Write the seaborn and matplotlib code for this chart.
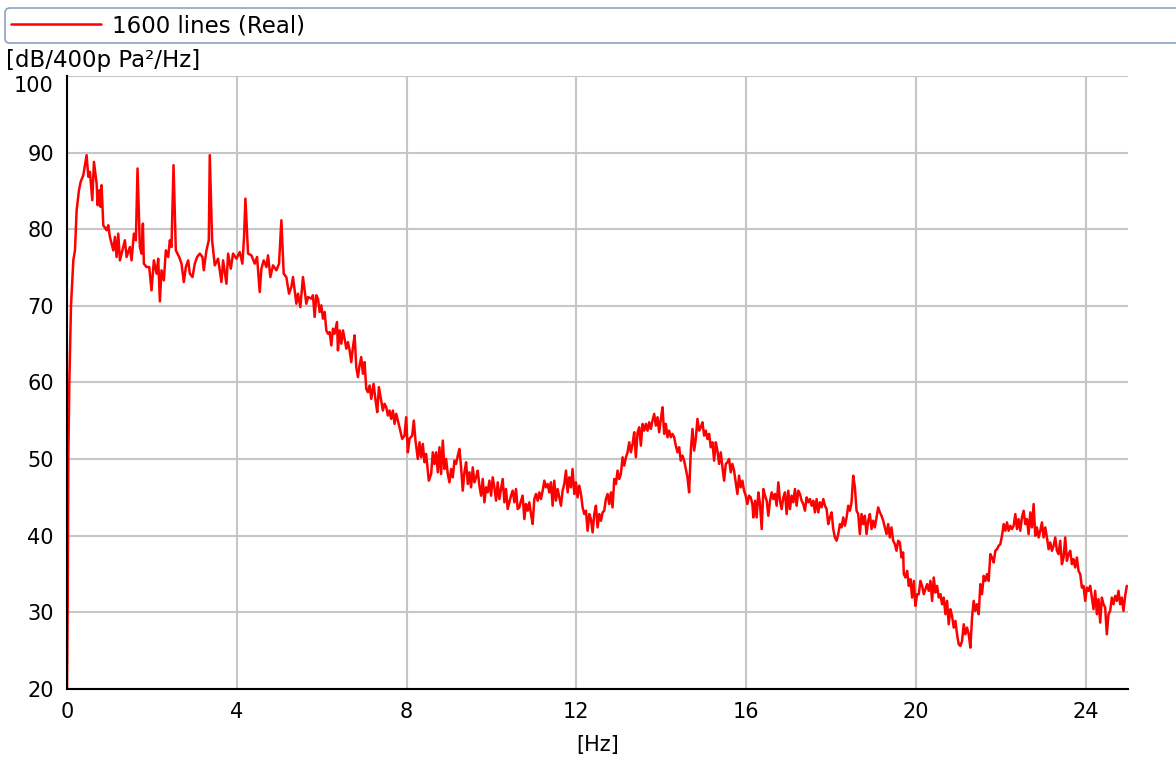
import numpy as np
import pandas as pd
import matplotlib
matplotlib.use("Agg")
import matplotlib.pyplot as plt
import seaborn as sns

# ---------------- data ----------------
series_label = "1600 lines (Real)"
y_unit = "[dB/400p Pa\u00b2/Hz]"
x_unit = "[Hz]"
x_ticks = [0, 4, 8, 12, 16, 20, 24]
y_ticks = [20, 30, 40, 50, 60, 70, 80, 90, 100]

freq_0_6 = [0.0, 0.016, 0.031, 0.055, 0.094, 0.15, 0.188, 0.227, 0.282, 0.321, 0.384, 0.462, 0.502, 0.541,
            0.596, 0.635, 0.698, 0.721, 0.76, 0.792, 0.815, 0.855, 0.933, 0.972, 1.011, 1.09, 1.129, 1.168,
            1.208, 1.247, 1.286, 1.364, 1.404, 1.482, 1.521, 1.576, 1.623, 1.662, 1.717, 1.757, 1.788, 1.811,
            1.874, 1.937, 1.992, 2.047, 2.11, 2.149, 2.188, 2.227, 2.282, 2.329, 2.384, 2.423, 2.462, 2.51,
            2.564, 2.643, 2.698, 2.753, 2.8, 2.855, 2.894, 2.957, 3.011, 3.066, 3.129, 3.192, 3.223, 3.286,
            3.341, 3.364, 3.419, 3.482, 3.56, 3.639, 3.678, 3.757, 3.796, 3.859, 3.913, 3.992, 4.07, 4.133,
            4.172, 4.204, 4.266, 4.345, 4.423, 4.478, 4.541, 4.58, 4.635, 4.698, 4.737, 4.792, 4.855, 4.933,
            4.996, 5.051, 5.106, 5.168, 5.231, 5.286, 5.325, 5.404, 5.443, 5.498, 5.56, 5.639, 5.678]
db_0_6 = [20.0, 31.0, 50.0, 60.0, 70.0, 76.0, 77.25, 82.48, 85.09, 86.18, 87.05, 89.67, 86.84, 87.49,
          83.79, 88.8, 85.97, 83.13, 85.09, 82.92, 85.75, 80.52, 79.87, 80.52, 79.0, 77.25, 79.0, 76.38,
          79.43, 75.94, 76.82, 78.56, 76.38, 77.69, 75.94, 79.43, 78.56, 87.93, 77.69, 76.82, 80.74, 75.51,
          75.07, 75.07, 72.02, 75.94, 74.2, 76.16, 70.59, 74.64, 73.33, 77.25, 76.38, 78.56, 77.69, 88.36,
          77.25, 76.38, 75.51, 73.11, 75.07, 75.94, 74.2, 73.76, 75.51, 76.38, 76.82, 76.38, 74.64, 77.25,
          78.56, 89.67, 78.56, 75.29, 76.16, 73.11, 75.94, 72.89, 76.82, 74.85, 76.82, 76.16, 77.03, 75.51,
          79.0, 84.0, 76.82, 76.6, 75.51, 76.38, 71.8, 74.85, 75.94, 75.07, 76.6, 73.76, 75.29, 74.64,
          75.51, 81.17, 74.2, 73.76, 71.59, 72.46, 73.76, 70.28, 71.59, 69.84, 73.76, 70.28, 71.15]

freq_6_8 = [5.757, 5.796, 5.835, 5.875, 5.914, 5.953, 5.992, 6.031, 6.071, 6.11, 6.149, 6.188, 6.228, 6.267,
            6.306, 6.361, 6.384, 6.424, 6.463, 6.502, 6.541, 6.581, 6.62, 6.659, 6.698, 6.737, 6.777, 6.816,
            6.855, 6.894, 6.933, 6.973, 7.012, 7.051, 7.09, 7.13, 7.169, 7.224, 7.271, 7.31, 7.349, 7.388,
            7.443, 7.482, 7.522, 7.561, 7.6, 7.639, 7.679, 7.718, 7.757, 7.796]
db_6_8 = [70.94, 71.38, 68.55, 71.38, 70.94, 69.2, 70.07, 68.33, 69.2, 66.8, 66.37, 66.58, 64.84, 67.02,
          66.37, 67.89, 64.19, 66.8, 65.06, 66.8, 65.71, 64.41, 65.28, 64.19, 62.66, 64.62, 66.15, 62.01,
          60.7, 62.23, 63.32, 61.14, 62.66, 59.18, 58.74, 59.61, 57.87, 59.83, 57.65, 56.13, 59.39, 58.09,
          56.34, 57.22, 56.78, 55.69, 56.34, 55.26, 56.34, 54.6, 55.91, 55.04]

freq_8_12 = [7.898, 7.953, 7.992, 8.031, 8.07, 8.133, 8.172, 8.211, 8.266, 8.306, 8.345, 8.384, 8.423, 8.462,
             8.525, 8.58, 8.619, 8.659, 8.698, 8.737, 8.776, 8.815, 8.855, 8.894, 8.933, 8.972, 9.011, 9.051,
             9.09, 9.129, 9.168, 9.208, 9.247, 9.286, 9.325, 9.364, 9.404, 9.443, 9.482, 9.521, 9.561, 9.6,
             9.639, 9.678, 9.717, 9.757, 9.796, 9.835, 9.874, 9.913, 9.953, 9.992, 10.031, 10.07, 10.11,
             10.149, 10.188, 10.227, 10.266, 10.306, 10.345, 10.384, 10.423, 10.462, 10.502, 10.541, 10.58,
             10.619, 10.659, 10.698, 10.737, 10.776, 10.815, 10.855, 10.894, 10.933, 10.972, 11.011, 11.051,
             11.09, 11.129, 11.168, 11.208, 11.247, 11.286, 11.325, 11.364, 11.404, 11.443, 11.482, 11.521,
             11.561, 11.6, 11.639, 11.678, 11.717, 11.757, 11.796, 11.835, 11.874, 11.913, 11.953, 11.992,
             12.031, 12.07]
db_8_12 = [52.64, 53.07, 55.47, 50.89, 52.64, 53.07, 55.03, 52.42, 50.02, 52.2, 50.24, 51.98, 49.59, 50.68,
           47.19, 48.06, 50.89, 49.37, 50.89, 48.28, 51.55, 48.06, 52.42, 48.71, 50.02, 48.06, 46.97, 48.71,
           47.63, 49.8, 49.37, 50.46, 51.33, 48.93, 45.88, 48.28, 49.59, 46.75, 48.28, 46.32, 48.93, 46.97,
           47.63, 48.5, 46.54, 45.23, 47.41, 44.36, 46.32, 45.66, 47.19, 45.23, 47.63, 46.32, 44.58,
           46.97, 44.79, 46.1, 47.41, 44.36, 46.1, 43.49, 44.36, 45.23, 45.88, 44.36, 46.1,
           43.49, 43.7, 44.58, 45.23, 42.18, 44.14, 43.27, 44.36, 42.83, 41.53, 44.79, 45.45,
           44.58, 45.66, 44.79, 45.88, 47.19, 46.32, 46.75, 45.66, 46.97, 43.92, 47.19, 44.58,
           46.1, 45.01, 43.92, 45.88, 46.75, 48.5, 45.66, 47.63, 46.32, 48.71, 45.45, 46.97,
           45.01, 46.54]

freq_12_16 = [12.11, 12.149, 12.188, 12.228, 12.267, 12.306, 12.345, 12.385, 12.424, 12.463, 12.502, 12.542,
              12.581, 12.62, 12.659, 12.698, 12.738, 12.777, 12.816, 12.855, 12.895, 12.934, 12.973, 13.012,
              13.051, 13.091, 13.13, 13.169, 13.208, 13.247, 13.287, 13.326, 13.365, 13.404, 13.444, 13.483,
              13.522, 13.561, 13.6, 13.64, 13.679, 13.718, 13.757, 13.796, 13.836, 13.875, 13.914, 13.953,
              13.993, 14.032, 14.071, 14.11, 14.149, 14.189, 14.228, 14.267, 14.306, 14.346, 14.385, 14.424,
              14.463, 14.502, 14.542, 14.581, 14.62, 14.659, 14.699, 14.738, 14.777, 14.816, 14.855, 14.895,
              14.934, 14.973, 15.012, 15.052, 15.091, 15.13, 15.169, 15.208, 15.248, 15.287, 15.326, 15.365,
              15.404, 15.444, 15.483, 15.522, 15.561]
db_12_16 = [45.45, 43.7, 42.83, 43.27, 40.65, 42.83, 42.18, 40.43, 42.83, 43.92, 41.09, 42.83, 41.96, 43.05,
            43.27, 44.79, 45.45, 44.14, 45.66, 43.7, 47.41, 46.75, 48.5, 47.41, 48.06, 50.24, 49.15, 50.24,
            50.89, 52.2, 50.89, 51.98, 53.51, 50.24, 53.51, 54.16, 51.76, 54.6, 53.72, 54.6, 53.72, 54.81,
            53.94, 55.03, 55.9, 54.38, 55.47, 53.51, 55.25, 56.77, 53.29, 54.6, 52.85, 53.72, 52.85, 53.29,
            52.85, 51.76, 50.89, 51.55, 49.8, 50.46, 49.8, 48.71, 47.62, 45.66, 51.11, 53.94, 51.11, 52.63,
            55.25, 53.72, 54.16, 54.81, 53.07, 53.72, 52.63, 53.29, 51.55, 52.2, 49.8, 52.2, 51.11, 49.37,
            50.89, 48.93, 47.19, 49.37, 49.58]

freq_16_20 = [15.6, 15.639, 15.678, 15.718, 15.757, 15.796, 15.835, 15.874, 15.914, 15.953, 15.992, 16.031,
              16.07, 16.11, 16.149, 16.172, 16.212, 16.251, 16.29, 16.329, 16.369, 16.408, 16.447, 16.486,
              16.525, 16.565, 16.604, 16.643, 16.682, 16.721, 16.761, 16.8, 16.839, 16.878, 16.918, 16.957,
              16.996, 17.035, 17.074, 17.114, 17.153, 17.192, 17.231, 17.27, 17.31, 17.349, 17.388, 17.427,
              17.467, 17.506, 17.545, 17.584, 17.623, 17.663, 17.702, 17.741, 17.78, 17.82, 17.859, 17.898,
              17.937, 17.976, 18.016, 18.055, 18.094, 18.133, 18.173, 18.212, 18.251, 18.29, 18.329, 18.369,
              18.408, 18.447, 18.486, 18.525, 18.565, 18.604, 18.643, 18.682, 18.722, 18.761, 18.8, 18.839,
              18.878, 18.918, 18.957, 18.996, 19.035, 19.074, 19.114, 19.153, 19.192, 19.231, 19.271, 19.31,
              19.349, 19.388, 19.427, 19.467, 19.506, 19.545, 19.584, 19.624, 19.663, 19.702]
db_16_20 = [50.02, 48.28, 49.37, 48.5, 46.97, 45.45, 47.84, 46.32, 47.19, 45.88, 45.23, 44.14, 45.23, 45.01,
            44.14, 42.39, 44.57, 42.39, 45.66, 44.14, 40.87, 46.1, 45.23, 44.57, 42.61, 44.57, 45.66, 44.79,
            45.45, 43.92, 46.97, 44.57, 43.48, 45.01, 45.66, 42.83, 45.88, 43.48, 45.23, 44.36, 46.1, 43.92,
            45.88, 45.45, 44.57, 44.14, 43.27, 45.01, 44.36, 44.79, 43.92, 44.57, 43.05, 44.79, 43.05, 44.36,
            43.7, 44.79, 43.92, 43.48, 41.52, 42.39, 43.05, 40.87, 39.78, 39.35, 40.22, 41.52, 41.09, 42.39,
            41.31, 42.39, 43.92, 43.27, 44.36, 47.84, 46.32, 43.27, 42.83, 40.22, 42.83, 41.52, 42.61, 40.22,
            41.96, 42.83, 40.87, 41.96, 41.09, 42.39, 43.7, 43.05, 42.61, 41.96, 41.09, 40.22, 41.52, 39.78,
            41.09, 39.35, 38.91, 38.04, 39.35, 39.13, 37.17, 37.82]

freq_20_25 = [19.717, 19.756, 19.796, 19.835, 19.874, 19.913, 19.953, 19.992, 20.031, 20.07, 20.109, 20.149,
              20.188, 20.227, 20.266, 20.305, 20.345, 20.384, 20.423, 20.462, 20.502, 20.541, 20.58, 20.619,
              20.658, 20.698, 20.737, 20.776, 20.815, 20.854, 20.894, 20.933, 20.972, 21.011, 21.05, 21.09,
              21.129, 21.168, 21.207, 21.247, 21.286, 21.325, 21.364, 21.403, 21.443, 21.482, 21.521, 21.56,
              21.6, 21.639, 21.678, 21.717, 21.756, 21.796, 21.835, 21.874, 21.913, 21.952, 21.992, 22.031,
              22.07, 22.109, 22.149, 22.188, 22.227, 22.266, 22.305, 22.345, 22.384, 22.423, 22.462, 22.501,
              22.541, 22.58, 22.619, 22.658, 22.698, 22.737, 22.776, 22.815, 22.854, 22.894, 22.933, 22.972,
              23.011, 23.05, 23.09, 23.129, 23.168, 23.207, 23.247, 23.286, 23.325, 23.364, 23.403, 23.443,
              23.482, 23.521, 23.56, 23.6, 23.639, 23.678, 23.717, 23.756, 23.796, 23.835, 23.874, 23.913,
              23.952, 23.992, 24.031, 24.07, 24.109, 24.149, 24.188, 24.227, 24.266, 24.305, 24.345, 24.384,
              24.423, 24.462, 24.501, 24.541, 24.58, 24.619, 24.658, 24.698, 24.737, 24.776, 24.815, 24.854,
              24.894, 24.933, 24.972]
db_20_25 = [34.99, 34.55, 35.42, 33.46, 34.33, 31.93, 34.11, 30.85, 32.37, 32.37, 34.11, 33.46, 32.37, 33.02,
            33.68, 32.81, 34.11, 31.5, 34.55, 32.59, 33.46, 31.93, 32.37, 31.06, 31.93, 29.76, 31.5, 28.45,
            30.41, 29.54, 28.01, 28.89, 27.14, 25.84, 25.62, 26.27, 28.45, 27.14, 28.01, 27.14, 25.4, 29.32,
            31.5, 30.19, 31.06, 29.76, 33.68, 32.37, 34.77, 34.11, 34.99, 34.11, 37.6, 37.16, 36.51, 38.04,
            38.25, 38.69, 38.91, 40.0, 41.52, 40.65, 41.74, 40.65, 41.3, 40.87, 41.3, 42.83, 40.87, 42.17,
            40.65, 42.39, 43.26, 41.52, 42.17, 40.21, 43.05, 41.09, 44.14, 40.0, 41.09, 39.78, 40.65, 41.74,
            39.78, 41.09, 39.78, 38.25, 39.12, 38.04, 38.69, 39.78, 38.04, 37.6, 39.34, 36.29, 37.16, 39.78,
            36.73, 37.6, 38.04, 36.29, 36.95, 35.86, 37.16, 35.42, 34.99, 33.24, 33.46, 31.5, 33.24, 32.81,
            33.46, 31.93, 30.41, 32.81, 29.76, 31.72, 28.67, 31.93, 31.06, 30.63, 27.14, 29.76, 30.19, 31.93,
            31.06, 32.15, 31.5, 32.81, 31.06, 31.93, 30.19, 32.15, 33.46]

# ---------------- build table ----------------
freqs = freq_0_6 + freq_6_8 + freq_8_12 + freq_12_16 + freq_16_20 + freq_20_25
levels = db_0_6 + db_6_8 + db_8_12 + db_12_16 + db_16_20 + db_20_25
df = pd.DataFrame({"freq": freqs, "level": levels})

# ---------------- style ----------------
sns.set_style("white")
plt.rcParams["font.family"] = ["DejaVu Sans"]
plt.rcParams["text.color"] = "black"
plt.rcParams["axes.labelcolor"] = "black"
FS = 15
FS_BIG = 16.5

W, H = 1176, 760
fig = plt.figure(figsize=(W / 100, H / 100), dpi=100)
fig.patch.set_facecolor("white")
ax = fig.add_axes([67 / W, (H - 689) / H, (1128 - 67) / W, (689 - 76) / H])

sns.lineplot(data=df, x="freq", y="level", ax=ax, color="#ff0000", linewidth=1.8,
             estimator=None, sort=False, label=series_label)

ax.set_xlim(0, 25)
ax.set_ylim(20, 100)
ax.set_xticks(x_ticks)
ax.set_yticks(y_ticks)
ax.grid(True, color="#c6c6c6", linewidth=1.5)
ax.set_axisbelow(True)
for s in ["top", "right"]:
    ax.spines[s].set_visible(False)
for s in ["left", "bottom"]:
    ax.spines[s].set_color("black")
    ax.spines[s].set_linewidth(1.5)
ax.tick_params(axis="both", direction="out", length=6.5, width=1.3, color="black",
               labelsize=FS, labelcolor="black", pad=3)
# the top y label sits just below its tick, as in the reference
ax.yaxis.get_major_ticks()[-1].label1.set_verticalalignment("top")
ax.set_xlabel(x_unit, fontsize=FS, labelpad=9, color="black")
ax.set_ylabel("")
ax.get_legend().remove()

fig.text(6 / W, 1 - 60 / H, y_unit, fontsize=FS_BIG, ha="left", va="center", color="black")

handles, labels = ax.get_legend_handles_labels()
leg = fig.legend(handles, labels, loc="upper left",
                 bbox_to_anchor=(5 / W, 1 - 40.5 / H, 1.0, 32.5 / H), mode="expand",
                 borderaxespad=0, frameon=True, fancybox=True, fontsize=FS_BIG,
                 handlelength=3.9, handletextpad=0.5, borderpad=0.27)
frame = leg.get_frame()
frame.set_edgecolor("#8ba3c4")
frame.set_linewidth(1.2)
frame.set_facecolor("white")
frame.set_alpha(1)
for ln in leg.get_lines():
    ln.set_linewidth(1.8)
for t in leg.get_texts():
    t.set_color("black")

fig.savefig("out.png", dpi=100)
